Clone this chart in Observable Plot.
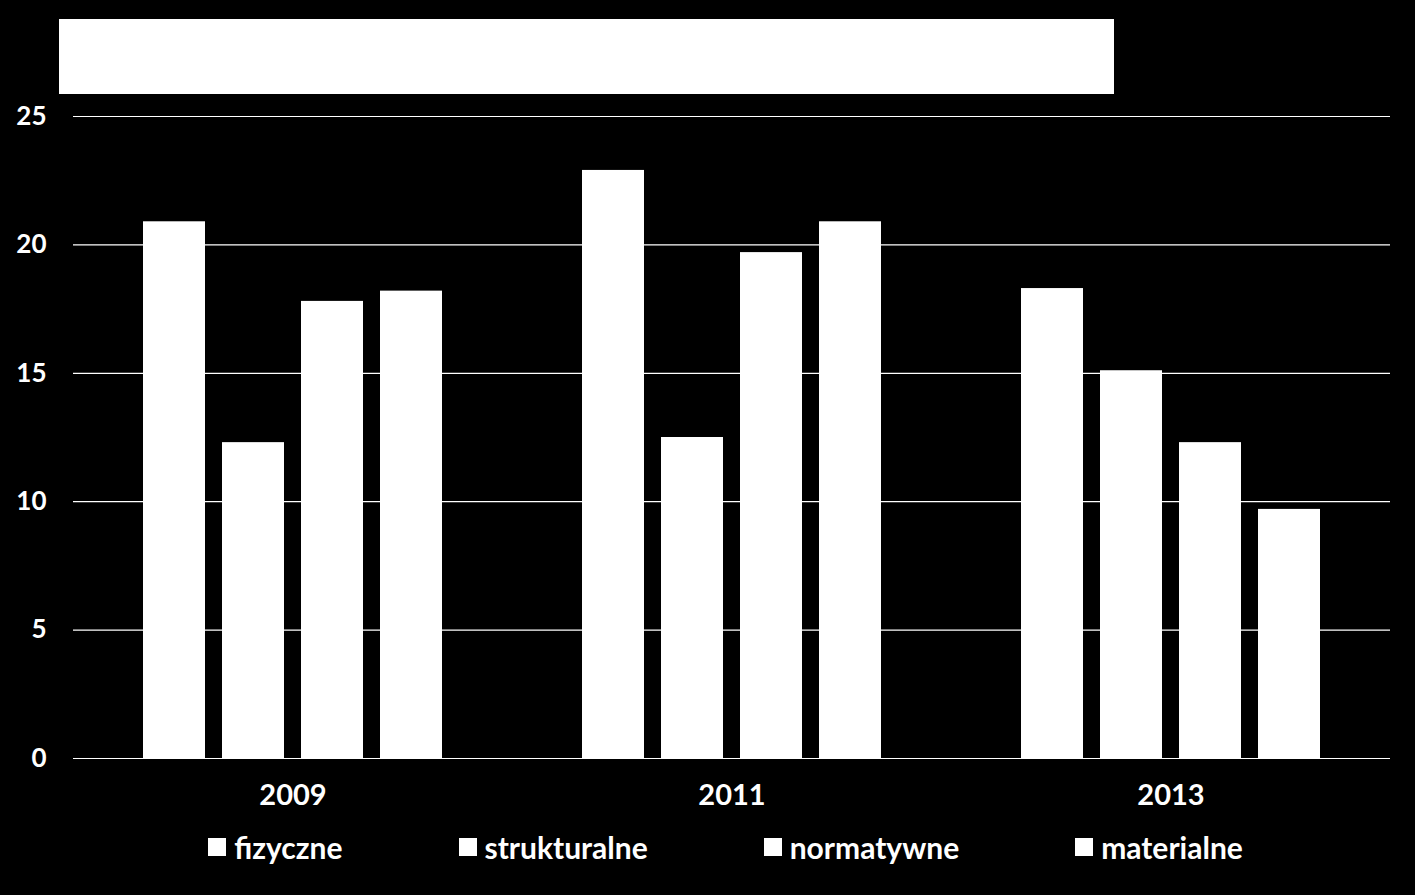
<!DOCTYPE html>
<html>
<head>
<meta charset="utf-8">
<script src="https://cdn.jsdelivr.net/npm/d3@7"></script>
<script src="https://cdn.jsdelivr.net/npm/@observablehq/plot@0.6"></script>
<style>
  html, body { margin: 0; padding: 0; background: #000; width: 1415px; height: 895px; overflow: hidden; }
  #titlebox { position: absolute; left: 59px; top: 19px; width: 1055px; height: 75px; background: #fff; }
  #chart { position: absolute; left: 0; top: 94px; }
  #legend { position: absolute; left: 0; top: 831px; width: 1415px; display: flex; justify-content: center; padding-left: 36px; box-sizing: border-box;
            font-family: Lato, "Open Sans", sans-serif; font-weight: bold; font-size: 30px; color: #fff; line-height: 32px; }
  .item { display: flex; align-items: center; margin: 0 58px; }
  .sw { width: 18px; height: 18px; background: #fff; margin-right: 8px; }
</style>
</head>
<body>
<div id="titlebox"></div>
<div id="chart"></div>
<div id="legend"></div>
<script>
const years = ["2009", "2011", "2013"];
const series = ["fizyczne", "strukturalne", "normatywne", "materialne"];
const values2009 = [20.9, 12.3, 17.8, 18.2];
const values2011 = [22.9, 12.5, 19.7, 20.9];
const values2013 = [18.3, 15.1, 12.3, 9.7];
const yTicks = [0, 5, 10, 15, 20, 25];

const valuesByYear = [values2009, values2011, values2013];
const data = [];
years.forEach((yr, i) => series.forEach((s, j) => data.push({year: yr, series: s, value: valuesByYear[i][j]})));

const chart = Plot.plot({
  width: 1415,
  height: 724,
  marginTop: 22,
  marginLeft: 72,
  marginRight: 25,
  marginBottom: 60,
  style: {background: "#000", color: "#fff", fontFamily: "Lato, 'Open Sans', sans-serif", fontWeight: "bold", fontSize: "25px"},
  facet: {data, x: "year"},
  fx: {domain: years, padding: 0, axis: "bottom", tickSize: 0, tickPadding: 26, label: null, tickFormat: d => d},
  x: {domain: series, paddingInner: 0.21, paddingOuter: 0.85, axis: null},
  y: {domain: [0, 25], ticks: yTicks, tickSize: 0, tickPadding: 27, label: null},
  marks: [
    Plot.ruleY(yTicks, {stroke: "#fff", strokeWidth: 1.2}),
    Plot.barY(data, {x: "series", y: "value", fill: "#fff"})
  ]
});
chart.querySelectorAll("g").forEach(g => g.removeAttribute("font-size"));
chart.querySelectorAll("text").forEach(t => {
  t.style.fontSize = years.includes(t.textContent) ? "29px" : "26px";
});
document.getElementById("chart").appendChild(chart);

const legend = document.getElementById("legend");
series.forEach(s => {
  const it = document.createElement("div");
  it.className = "item";
  it.innerHTML = `<span class="sw"></span><span>${s}</span>`;
  legend.appendChild(it);
});
</script>
</body>
</html>
